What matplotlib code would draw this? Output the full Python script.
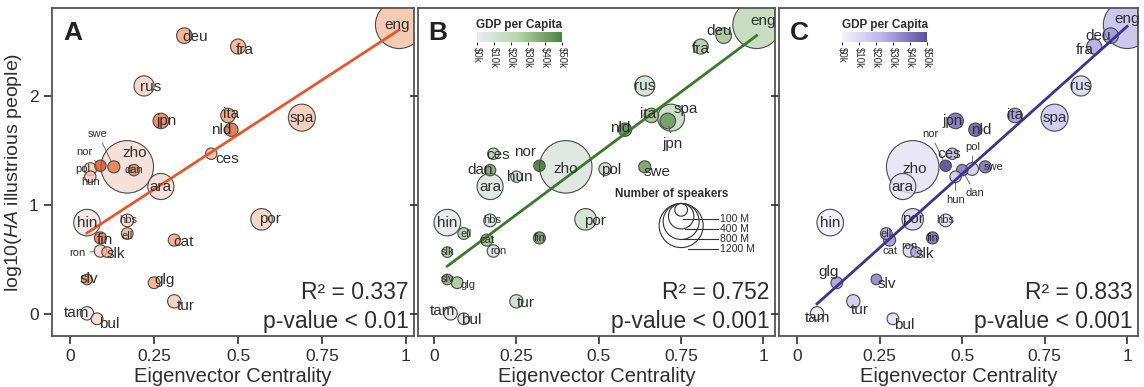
import numpy as np
import matplotlib.pyplot as plt
from matplotlib.colors import LinearSegmentedColormap, Normalize
from matplotlib.cm import ScalarMappable

plt.rcParams['font.family'] = ['Liberation Sans', 'DejaVu Sans']
plt.rcParams['mathtext.fontset'] = 'custom'
plt.rcParams['mathtext.rm'] = 'Liberation Sans'
plt.rcParams['mathtext.it'] = 'Liberation Sans:italic'

# languages and values
langs = ['eng', 'deu', 'fra', 'rus', 'jpn', 'ita', 'nld', 'spa', 'zho', 'swe',
         'nor', 'pol', 'hun', 'dan', 'ara', 'ces', 'hin', 'hbs', 'ell', 'fin',
         'ron', 'slk', 'cat', 'por', 'slv', 'glg', 'tur', 'tam', 'bul']
log_ha = [2.65, 2.55, 2.45, 2.09, 1.77, 1.82, 1.69, 1.80, 1.35, 1.35,
          1.36, 1.33, 1.26, 1.32, 1.17, 1.47, 0.84, 0.86, 0.74, 0.70,
          0.58, 0.57, 0.68, 0.87, 0.32, 0.29, 0.12, 0.01, -0.04]
cent_a = [0.98, 0.34, 0.50, 0.22, 0.27, 0.47, 0.48, 0.69, 0.17, 0.13,
          0.09, 0.06, 0.06, 0.19, 0.27, 0.42, 0.05, 0.17, 0.17, 0.09,
          0.09, 0.11, 0.31, 0.57, 0.05, 0.25, 0.31, 0.05, 0.08]
cent_b = [0.98, 0.88, 0.81, 0.64, 0.71, 0.66, 0.58, 0.72, 0.40, 0.64,
          0.32, 0.52, 0.25, 0.17, 0.17, 0.18, 0.04, 0.17, 0.09, 0.32,
          0.18, 0.04, 0.16, 0.46, 0.04, 0.07, 0.25, 0.05, 0.09]
cent_c = [1.00, 0.95, 0.90, 0.86, 0.48, 0.66, 0.54, 0.78, 0.35, 0.57,
          0.45, 0.53, 0.48, 0.50, 0.32, 0.47, 0.10, 0.45, 0.27, 0.41,
          0.34, 0.36, 0.28, 0.35, 0.24, 0.12, 0.17, 0.06, 0.29]
speakers = [1400, 150, 140, 250, 150, 130, 110, 450, 1700, 90,
            80, 100, 80, 80, 420, 80, 435, 100, 85, 90,
            95, 70, 90, 285, 70, 85, 110, 110, 85]
gdp = [18, 28, 26, 10, 40, 30, 45, 15, 6, 40,
       55, 14, 14, 38, 6, 22, 1.5, 8, 26, 42,
       9, 25, 30, 11, 35, 28, 14, 1.5, 7]

r2_text = ['0.337', '0.752', '0.833']
p_text = ['< 0.01', '< 0.001', '< 0.001']
gdp_ticks = [0, 10, 20, 30, 40, 50]
legend_sizes = [100, 400, 800, 1200]

SIZE_PER_M = 0.84  # scatter area (pt^2) per million speakers
TXT = '#2e2e2e'
EDGE = '#4a4a4a'

cmaps = [
    LinearSegmentedColormap.from_list('a', ['#f3e6e6', '#f5ad85', '#dd4718']),
    LinearSegmentedColormap.from_list('b', ['#e4eaf0', '#a8cc98', '#2c6a22']),
    LinearSegmentedColormap.from_list('c', ['#f3f2fb', '#a9a2e2', '#372f8e']),
]
line_cols = ['#e8572c', '#3a7a2c', '#3b3494']
norm = Normalize(0, 50)

# label offsets in pixels (dx, dy) per panel, default centred on the bubble
offsets = [
    {'eng': (-2, 0), 'deu': (11, -1), 'fra': (7, -3), 'rus': (7, -1), 'jpn': (6, 0),
     'ita': (3, 1), 'nld': (-10, 0), 'ces': (16, -5), 'zho': (7, 14), 'swe': (-16, 33),
     'nor': (-16, 14), 'pol': (-8, 0), 'hun': (0, -5), 'hbs': (1, 0), 'ell': (0, -2),
     'fin': (4, -2), 'ron': (-23, -2), 'slk': (9, -2), 'cat': (9, -2), 'por': (8, 0),
     'slv': (2, 0), 'glg': (10, 3), 'tur': (12, -5), 'tam': (-10, 0), 'bul': (12, -5)},
    {'eng': (6, 4), 'deu': (-5, 5), 'fra': (0, -2), 'ita': (-3, 1), 'spa': (15, 9),
     'jpn': (5, -23), 'nld': (-5, 2), 'nor': (-14, 14), 'zho': (0, -2), 'pol': (6, -1),
     'swe': (12, -5), 'ces': (5, -1), 'dan': (-10, 0), 'hun': (3, 0), 'hbs': (2, 0),
     'ell': (2, 0), 'ron': (5, 0), 'por': (9, -2), 'glg': (11, -2), 'tur': (9, -2),
     'tam': (-8, 2), 'bul': (7, -1)},
    {'eng': (0, 6), 'deu': (-12, 0), 'fra': (-9, -3), 'jpn': (-3, 0), 'nld': (6, 0),
     'zho': (2, -2), 'nor': (-15, 32), 'pol': (1, 22), 'swe': (8, 0), 'dan': (13, -23),
     'hun': (0, -23), 'ces': (-3, 0), 'cat': (0, -11), 'ron': (0, 5), 'slk': (9, -2),
     'glg': (-8, 11), 'slv': (10, -5), 'tur': (7, -9), 'tam': (0, -5), 'bul': (11, -6)},
]
leaders = [{'swe', 'nor', 'ron'}, {'nor', 'jpn'}, {'nor', 'pol', 'dan', 'hun'}]
small = [{'swe', 'nor', 'pol', 'hun', 'ron', 'ell', 'hbs', 'dan'},
         {'hbs', 'ell', 'slk', 'slv', 'fin', 'cat', 'glg', 'ron'},
         {'nor', 'pol', 'dan', 'hun', 'cat', 'ron', 'ell', 'hbs', 'fin', 'swe'}]

fig = plt.figure(figsize=(11.44, 3.87), dpi=100)
rects = [[0.0455, 0.131, 0.3164, 0.8475],
         [0.3654, 0.131, 0.3121, 0.8475],
         [0.6810, 0.131, 0.3138, 0.8475]]
xlims = [(-0.054, 1.024), (-0.049, 1.036), (-0.055, 1.033)]
xs_all = [cent_a, cent_b, cent_c]
y = np.array(log_ha)
spk = np.array(speakers)
order = np.argsort(-spk)

for k in range(3):
    ax = fig.add_axes(rects[k])
    x = np.array(xs_all[k])
    cols = cmaps[k](norm(np.array(gdp)), alpha=0.78)
    ax.scatter(x[order], y[order], s=spk[order] * SIZE_PER_M, c=cols[order],
               edgecolors=EDGE, linewidths=0.8, zorder=2)

    slope, icpt = np.polyfit(x, y, 1)
    xl = np.array([x.min(), x.max()])
    ax.plot(xl, slope * xl + icpt, color=line_cols[k], lw=2, zorder=3)

    for i, name in enumerate(langs):
        dx, dy = offsets[k].get(name, (0, 0))
        fs = 8 if name in small[k] else 11
        kw = {}
        if name in leaders[k]:
            kw['arrowprops'] = dict(arrowstyle='-', color='#555555', lw=0.6,
                                    shrinkA=1, shrinkB=4)
        ax.annotate(name, (x[i], y[i]), xytext=(dx, dy), textcoords='offset pixels',
                    ha='center', va='center', fontsize=fs, color=TXT, zorder=4, **kw)

    ax.set_xlim(*xlims[k])
    ax.set_ylim(-0.2, 2.8)
    ax.set_xticks([0, 0.25, 0.5, 0.75, 1])
    ax.set_xticklabels(['0', '0.25', '0.5', '0.75', '1'])
    ax.set_yticks([0, 1, 2])
    if k > 0:
        ax.set_yticklabels([])
    else:
        ax.set_ylabel(r'log10($\mathit{HA}$ illustrious people)', fontsize=14,
                      color=TXT, labelpad=4)
    ax.set_xlabel('Eigenvector Centrality', fontsize=14.5, color=TXT, labelpad=2)
    ax.tick_params(labelsize=12.5, colors=TXT, length=6, width=1.2, direction='out')
    for sp in ax.spines.values():
        sp.set_color('#555555')
        sp.set_linewidth(1.3)

    ax.text(0.03, 0.925, 'ABC'[k], transform=ax.transAxes, fontsize=19,
            fontweight='bold', color='#222222', ha='left', va='center')
    ax.text(0.985, 0.134, 'R\u00b2 = ' + r2_text[k], transform=ax.transAxes,
            fontsize=16.5, color=TXT, ha='right', va='center')
    ax.text(0.985, 0.046, 'p-value ' + p_text[k], transform=ax.transAxes,
            fontsize=16.5, color=TXT, ha='right', va='center')

    if k > 0:
        x0 = [0.165, 0.175][k - 1]
        cax = ax.inset_axes([x0, 0.896, 0.238, 0.031])
        cb = fig.colorbar(ScalarMappable(norm=norm, cmap=cmaps[k]), cax=cax,
                          orientation='horizontal', ticks=gdp_ticks, alpha=0.85)
        cb.outline.set_visible(False)
        cax.set_xticklabels(['\\$%dk' % t for t in gdp_ticks], rotation=-90)
        cax.tick_params(labelsize=7, length=2, pad=1, colors=TXT)
        cax.set_title('GDP per Capita', fontsize=8.5, fontweight='bold',
                      color=TXT, pad=3)

    if k == 1:
        pos = ax.get_position()
        h_px = pos.height * fig.get_figheight() * fig.dpi
        w_px = pos.width * fig.get_figwidth() * fig.dpi
        cx, top, lx = 0.737, 0.405, 0.845
        ax.text(0.71, 0.435, 'Number of speakers', transform=ax.transAxes,
                fontsize=8.5, fontweight='bold', color=TXT, ha='center', va='center')
        for j, m in enumerate(legend_sizes):
            s = m * SIZE_PER_M
            r = np.sqrt(s) / 72 * fig.dpi / 2
            cy = top - r / h_px
            ax.scatter([cx], [cy], s=s, facecolors='none', edgecolors='#333333',
                       linewidths=0.8, transform=ax.transAxes, zorder=5)
            ly = top - (16 + 10 * j) / h_px
            dy = abs(ly - cy) * h_px
            start = cx + (np.sqrt(max(r ** 2 - dy ** 2, 0)) if dy < r else r * 0.3) / w_px
            ax.plot([start, lx - 0.005], [ly, ly], transform=ax.transAxes,
                    color='#333333', lw=0.8, zorder=5)
            ax.text(lx, ly, '%d M' % m, transform=ax.transAxes, fontsize=7.5,
                    color=TXT, ha='left', va='center')

fig.savefig('out.png', dpi=100)
